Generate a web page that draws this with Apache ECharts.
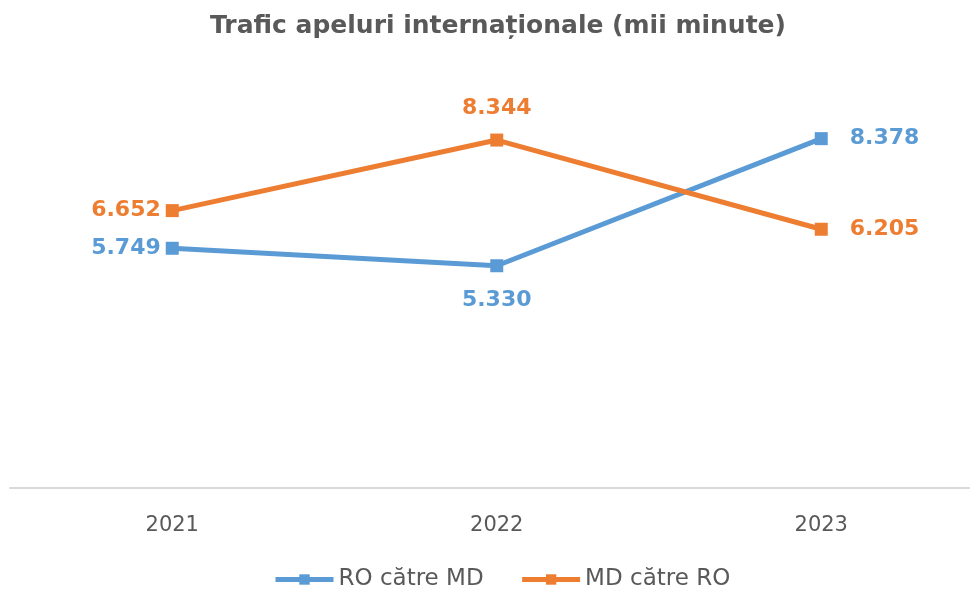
<!DOCTYPE html>
<html>
<head>
<meta charset="utf-8">
<script src="https://cdn.jsdelivr.net/npm/echarts@6/dist/echarts.min.js"></script>
<style>
  html, body { margin: 0; padding: 0; background: #fff; }
  #chart { width: 970px; height: 594px; }
</style>
</head>
<body>
<div id="chart"></div>
<script>
// date
const years = ['2021', '2022', '2023']
const roToMd = [5.749, 5.330, 8.378]
const mdToRo = [6.652, 8.344, 6.205]
// pozitia etichetelor pentru fiecare punct
const roLabelPos = ['left', 'bottom', 'right']
const mdLabelPos = ['left', 'top', 'right']

const textColor = '#595959'
const fontFamily = 'DejaVu Sans, Verdana, sans-serif'
const labelGap = { left: 5, right: 22, top: 14, bottom: 17 }

function withLabels (values, positions) {
  return values.map((v, i) => ({
    value: v,
    label: { position: positions[i], distance: labelGap[positions[i]] }
  }))
}

function makeSeries (name, values, positions, color) {
  return {
    name: name,
    type: 'line',
    data: withLabels(values, positions),
    symbol: 'rect',
    symbolSize: 13,
    lineStyle: { width: 5, color: color },
    itemStyle: { color: color },
    label: {
      show: true,
      color: color,
      fontWeight: 'bold',
      fontSize: 22,
      fontFamily: fontFamily,
      formatter: p => p.value.toFixed(3)
    }
  }
}

const chart = echarts.init(document.getElementById('chart'))
chart.setOption({
  animation: false,
  title: {
    text: 'Trafic apeluri internaționale (mii minute)',
    left: 205,
    top: 9,
    textStyle: { color: textColor, fontSize: 25, fontWeight: 'bold', fontFamily: fontFamily }
  },
  // zona graficului iese putin din canvas in dreapta, ca in original
  grid: { left: 10, top: 71, width: 973.5, bottom: 106, outerBoundsMode: 'none', containLabel: false },
  xAxis: {
    type: 'category',
    data: years,
    boundaryGap: true,
    axisTick: { show: false },
    axisLine: { lineStyle: { color: '#d9d9d9', width: 2 } },
    axisLabel: { color: textColor, fontSize: 21, fontFamily: fontFamily, margin: 27 }
  },
  yAxis: {
    type: 'value',
    min: 0,
    max: 10,
    show: false
  },
  legend: {
    bottom: -2,
    left: 268,
    itemWidth: 58,
    itemHeight: 13,
    itemGap: 36,
    lineStyle: { width: 5 },
    textStyle: { color: textColor, fontSize: 23, fontFamily: fontFamily }
  },
  series: [
    makeSeries('RO către MD', roToMd, roLabelPos, '#5B9BD5'),
    makeSeries('MD către RO', mdToRo, mdLabelPos, '#ED7D31')
  ]
})
</script>
</body>
</html>
